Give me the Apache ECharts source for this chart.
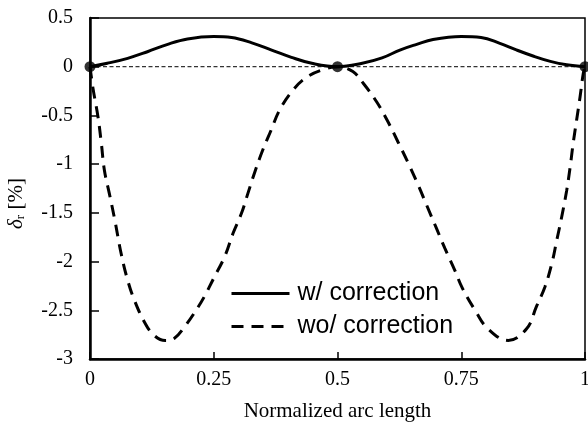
<!DOCTYPE html>
<html>
<head>
<meta charset="utf-8">
<script src="https://cdn.jsdelivr.net/npm/echarts@6/dist/echarts.min.js"></script>
<style>html,body{margin:0;padding:0;background:#fff}#c{width:588px;height:425px}</style>
</head>
<body>
<div id="c"></div>
<script>
// x positions and values
const withX = [0, 0.035, 0.076, 0.116, 0.157, 0.197, 0.25, 0.286, 0.327, 0.367, 0.407, 0.448, 0.5,
  0.55, 0.59, 0.626, 0.66, 0.693, 0.75, 0.79, 0.828, 0.86, 0.895, 0.93, 0.963, 1];
const withY = [0, 0.035, 0.086, 0.154, 0.23, 0.285, 0.31, 0.30, 0.245, 0.171, 0.096, 0.035, 0,
  0.035, 0.09, 0.171, 0.23, 0.28, 0.31, 0.30, 0.24, 0.175, 0.11, 0.055, 0.02, 0];

const woX = [0, 0.006, 0.016, 0.023, 0.029, 0.039, 0.05, 0.063, 0.076, 0.09, 0.111, 0.13, 0.152, 0.17,
  0.191, 0.218, 0.232, 0.25, 0.272, 0.289, 0.306, 0.319, 0.333, 0.349, 0.366, 0.383, 0.41, 0.437, 0.471, 0.5,
  0.531, 0.552, 0.579, 0.602, 0.622, 0.643, 0.663, 0.68, 0.70, 0.717, 0.737, 0.752, 0.778, 0.804, 0.845,
  0.882, 0.902, 0.919, 0.933, 0.943, 0.953, 0.963, 0.970, 0.976, 0.983, 0.990, 0.9965, 1];
const woY = [0, -0.22, -0.51, -0.79, -1.06, -1.30, -1.57, -1.92, -2.19, -2.40, -2.63, -2.76, -2.81, -2.79,
  -2.67, -2.47, -2.35, -2.17, -1.95, -1.71, -1.505, -1.30, -1.08, -0.855, -0.65, -0.445, -0.24, -0.11, -0.03, 0,
  -0.05, -0.17, -0.36, -0.565, -0.77, -0.99, -1.215, -1.42, -1.66, -1.865, -2.09, -2.27, -2.50, -2.69, -2.81,
  -2.69, -2.46, -2.26, -2.02, -1.78, -1.54, -1.27, -1.03, -0.79, -0.55, -0.31, -0.07, 0];

const zeroX = [0, 1];
const zeroY = [0, 0];
const dotX = [0, 0.5, 1];
const dotY = [0, 0, 0];

const xTickLabels = {0: '0', 0.25: '0.25', 0.5: '0.5', 0.75: '0.75', 1: '1'};
const seriesNames = ['w/ correction', 'wo/ correction'];

const zip = (xs, ys) => xs.map((x, i) => [x, ys[i]]);
const serif = '"Liberation Serif", "Times New Roman", serif';
const sans = '"Liberation Sans", Arial, sans-serif';

const chart = echarts.init(document.getElementById('c'), null, {renderer: 'canvas'});
chart.setOption({
  animation: false,
  backgroundColor: '#fff',
  grid: {left: 90, right: 3, top: 18, bottom: 66, show: true, borderColor: '#000', borderWidth: 1.5,
    containLabel: false, outerBoundsMode: 'none'},
  legend: {
    data: seriesNames,
    orient: 'vertical',
    left: 225, top: 276,
    itemWidth: 58, itemHeight: 3, itemGap: 8,
    itemStyle: {opacity: 0},
    lineStyle: {width: 3},
    textStyle: {fontFamily: sans, fontSize: 25, color: '#000', lineHeight: 24, padding: [0, 0, 0, 3]}
  },
  xAxis: {
    type: 'value', min: 0, max: 1, interval: 0.25,
    name: 'Normalized arc length', nameLocation: 'middle', nameGap: 42,
    nameTextStyle: {fontFamily: serif, fontSize: 21, color: '#000'},
    axisLine: {onZero: false, lineStyle: {color: '#000', width: 2.5}},
    axisTick: {inside: true, length: 7, lineStyle: {color: '#000', width: 1.5}},
    axisLabel: {fontFamily: serif, fontSize: 20, color: '#000', margin: 11,
      formatter: v => xTickLabels[v] !== undefined ? xTickLabels[v] : ''},
    splitLine: {show: false}
  },
  yAxis: {
    type: 'value', min: -3, max: 0.5, interval: 0.5,
    name: '{d|δ}{s|r}{n| [%]}', nameLocation: 'middle', nameGap: 63, nameRotate: 90,
    nameTextStyle: {
      color: '#000',
      padding: [0, 30, 0, 0],
      rich: {
        d: {fontFamily: serif, fontStyle: 'italic', fontSize: 21, color: '#000'},
        s: {fontFamily: serif, fontSize: 13, color: '#000', padding: [9, 0, 0, 0]},
        n: {fontFamily: serif, fontSize: 21, color: '#000'}
      }
    },
    axisLine: {onZero: false, lineStyle: {color: '#000', width: 2.5}},
    axisTick: {inside: true, length: 9, lineStyle: {color: '#000', width: 1.5}},
    axisLabel: {fontFamily: serif, fontSize: 20, color: '#000', margin: 17},
    splitLine: {show: false}
  },
  series: [
    {
      type: 'line', data: zip(zeroX, zeroY), symbol: 'none', silent: true,
      lineStyle: {color: '#000', width: 1, type: [4, 2.5]}
    },
    {
      name: seriesNames[0], type: 'line', data: zip(withX, withY), symbol: 'none', smooth: 0.4,
      lineStyle: {color: '#000', width: 3}, itemStyle: {color: '#000'}
    },
    {
      name: seriesNames[1], type: 'line', data: zip(woX, woY), symbol: 'none', smooth: 0.4,
      lineStyle: {color: '#000', width: 3, type: [12, 8]}, itemStyle: {color: '#000'}
    },
    {
      type: 'scatter', data: zip(dotX, dotY), symbolSize: 11, clip: false, z: 5,
      itemStyle: {color: '#000'}
    }
  ]
});
</script>
</body>
</html>
